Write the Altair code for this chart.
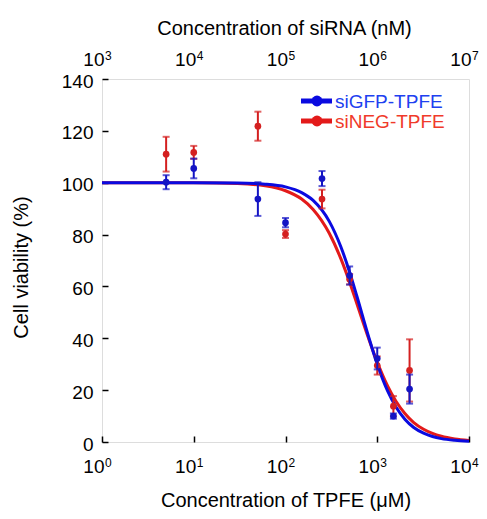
import altair as alt
import pandas as pd

# ---------------- data ----------------
conc_um = [5, 10, 50, 100, 250, 500, 1000, 1500, 2250]
gfp_mean = [100.2, 105.5, 93.7, 84.6, 101.6, 64.2, 32.2, 10.0, 20.4]
gfp_err = [2.7, 3.8, 6.5, 1.8, 2.9, 3.5, 4.2, 1.0, 5.6]
neg_mean = [111.0, 111.7, 121.8, 80.2, 93.7, 62.8, 29.5, 13.8, 27.6]
neg_err = [6.7, 2.5, 5.6, 1.5, 3.6, 2.0, 3.5, 3.9, 12.0]

# fitted dose-response curves
fit_x = [1, 10, 30, 60, 100, 150, 200, 300, 400, 500, 600, 800, 1000,
         1300, 1600, 2000, 2500, 3200, 4000, 5000, 7000, 10000]
fit_gfp = [100, 99.99, 99.88, 99.45, 98.4, 96.2, 93.2, 85.1, 75.4, 65.5, 56.2,
           40.9, 30.0, 19.6, 13.5, 8.8, 5.6, 3.4, 2.1, 1.3, 0.65, 0.3]
fit_neg = [100, 99.96, 99.66, 98.8, 96.9, 93.7, 89.7, 80.5, 70.8, 61.6, 53.3,
           40.2, 30.8, 21.5, 15.7, 11.0, 7.5, 4.9, 3.3, 2.2, 1.2, 0.62]

series_names = ["siGFP-TPFE", "siNEG-TPFE"]

tick_um = [1, 10, 100, 1000, 10000]
tick_base = ["10", "10", "10", "10", "10"]
bottom_exp = ["0", "1", "2", "3", "4"]
top_exp = ["3", "4", "5", "6", "7"]
y_ticks = [0, 20, 40, 60, 80, 100, 120, 140]

bottom_title = "Concentration of TPFE (μM)"
top_title = "Concentration of siRNA (nM)"
y_title = "Cell viability (%)"

# ---------------- styling ----------------
FONT = "Liberation Sans"
W, H = 367, 363
BLUE_LINE, BLUE_PT, BLUE_TXT = "#0a0ae0", "#1414c4", "#2040f0"
RED_LINE, RED_PT, RED_TXT = "#e31a1a", "#d42020", "#f03a2a"

xscale = alt.Scale(type="log", domain=[1, 10000], nice=False)
yscale = alt.Scale(domain=[0, 140], nice=False, zero=False)

x_axis = alt.Axis(values=tick_um, orient="bottom", offset=-6, tickSize=6,
                  tickWidth=1.5, tickColor="black", labels=False, domain=False,
                  grid=False, title=bottom_title, titleFont=FONT,
                  titleFontSize=20, titleFontWeight="normal", titleColor="black",
                  titleX=W / 2, titleY=70, titleAlign="center",
                  titleBaseline="alphabetic")
y_axis = alt.Axis(values=y_ticks, offset=-6, tickSize=6, tickWidth=1.5,
                  tickColor="black", domain=False, grid=False, labelPadding=9,
                  labelFont=FONT, labelFontSize=19, labelColor="black",
                  labelOffset=2,
                  title=y_title, titleFont=FONT, titleFontSize=20,
                  titleFontWeight="normal", titleColor="black", titleX=-81,
                  titleY=188, titleAlign="center", titleBaseline="alphabetic")

X = alt.X("conc:Q", scale=xscale, axis=x_axis)


def Y(field):
    return alt.Y(f"{field}:Q", scale=yscale, axis=y_axis)


curve_df = pd.DataFrame({"conc": fit_x, "gfp": fit_gfp, "neg": fit_neg})

gfp_df = pd.DataFrame({"conc": conc_um, "mean": gfp_mean,
                       "lo": [m - e for m, e in zip(gfp_mean, gfp_err)],
                       "hi": [m + e for m, e in zip(gfp_mean, gfp_err)]})
neg_df = pd.DataFrame({"conc": conc_um, "mean": neg_mean,
                       "lo": [m - e for m, e in zip(neg_mean, neg_err)],
                       "hi": [m + e for m, e in zip(neg_mean, neg_err)]})

red_curve = alt.Chart(curve_df).mark_line(
    color=RED_LINE, strokeWidth=3, interpolate="monotone"
).encode(x=X, y=Y("neg"))
blue_curve = alt.Chart(curve_df).mark_line(
    color=BLUE_LINE, strokeWidth=3, interpolate="monotone"
).encode(x=X, y=Y("gfp"))


def points(df, color):
    bars = alt.Chart(df).mark_rule(color=color, strokeWidth=2).encode(
        x=X, y=Y("lo"), y2="hi:Q")
    cap_lo = alt.Chart(df).mark_tick(color=color, orient="horizontal",
                                     size=7, thickness=2).encode(x=X, y=Y("lo"))
    cap_hi = alt.Chart(df).mark_tick(color=color, orient="horizontal",
                                     size=7, thickness=2).encode(x=X, y=Y("hi"))
    dots = alt.Chart(df).mark_point(filled=True, color=color, size=45,
                                    opacity=1).encode(x=X, y=Y("mean"))
    return [bars, cap_lo, cap_hi, dots]


tick_df = pd.DataFrame({"conc": tick_um, "base": tick_base,
                        "bexp": bottom_exp, "texp": top_exp})

bot_base = alt.Chart(tick_df).mark_text(
    align="right", baseline="alphabetic", dx=2.5, font=FONT, fontSize=19,
    color="black").encode(x=X, y=alt.value(H + 31), text="base:N")
bot_exp = alt.Chart(tick_df).mark_text(
    align="left", baseline="alphabetic", dx=3, font=FONT, fontSize=12,
    color="black").encode(x=X, y=alt.value(H + 25), text="bexp:N")
top_base = alt.Chart(tick_df).mark_text(
    align="right", baseline="alphabetic", dx=2.5, font=FONT, fontSize=19,
    color="black").encode(x=X, y=alt.value(-13), text="base:N")
top_expo = alt.Chart(tick_df).mark_text(
    align="left", baseline="alphabetic", dx=3, font=FONT, fontSize=12,
    color="black").encode(x=X, y=alt.value(-19.5), text="texp:N")

title_df = pd.DataFrame({"t": [top_title]})
top_title_mark = alt.Chart(title_df).mark_text(
    align="center", baseline="alphabetic", font=FONT, fontSize=20,
    color="black").encode(x=alt.value(W / 2 - 1), y=alt.value(-44.5), text="t:N")


def legend_item(label, line_color, txt_color, y):
    d = pd.DataFrame({"label": [label]})
    ln = alt.Chart(d).mark_rule(color=line_color, strokeWidth=5).encode(
        x=alt.value(199), x2=alt.value(230), y=alt.value(y))
    dot = alt.Chart(d).mark_point(filled=True, color=line_color, size=120,
                                  opacity=1).encode(x=alt.value(215), y=alt.value(y))
    tx = alt.Chart(d).mark_text(align="left", baseline="alphabetic", font=FONT,
                                fontSize=19, color=txt_color).encode(
        x=alt.value(233), y=alt.value(y + 6.5), text="label:N")
    return [ln, dot, tx]


layers = [red_curve, blue_curve] + points(neg_df, RED_PT) + points(gfp_df, BLUE_PT)
layers += [bot_base, bot_exp, top_base, top_expo, top_title_mark]
layers += legend_item(series_names[0], BLUE_LINE, BLUE_TXT, 22)
layers += legend_item(series_names[1], RED_LINE, RED_TXT, 42)

chart = alt.layer(*layers).properties(
    width=W, height=H,
    padding={"left": 94, "top": 71, "right": 10, "bottom": 69},
    autosize=alt.AutoSizeParams(type="none"),
).configure_view(stroke="black", strokeWidth=2).configure(font=FONT)

chart.save("out.html", embed_options={"renderer": "svg", "actions": False})
